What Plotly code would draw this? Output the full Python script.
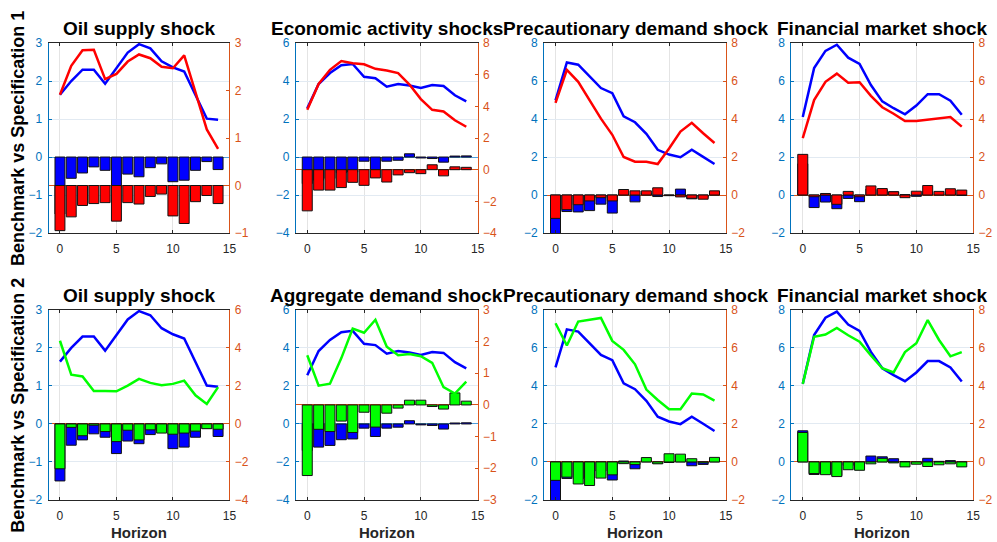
import plotly.graph_objects as go

horizon = list(range(15))

# Benchmark (same in both rows)
bench_oil_line = [1.64, 2.0, 2.3, 2.3, 1.93, 2.35, 2.75, 2.97, 2.86, 2.52, 2.36, 2.25, 1.64, 1.01, 0.98]
bench_oil_bar = [-1.5, -0.56, -0.42, -0.26, -0.35, -0.78, -0.45, -0.52, -0.28, -0.18, -0.65, -0.61, -0.35, -0.12, -0.33]
bench_ea_line = [2.56, 3.84, 4.42, 4.83, 4.9, 4.22, 4.15, 3.7, 3.84, 3.76, 3.63, 3.79, 3.74, 3.25, 2.93]
bench_ea_bar = [-1.4, -1.22, -1.13, -0.83, -0.79, -0.22, -0.66, -0.22, -0.17, 0.17, -0.05, -0.08, -0.27, 0.05, 0.06]
bench_pd_line = [4.98, 6.98, 6.86, 6.26, 5.63, 5.36, 4.14, 3.83, 3.22, 2.38, 2.13, 1.99, 2.38, 2.01, 1.63]
bench_pd_bar = [-2.3, -0.87, -0.89, -0.82, -0.48, -0.95, 0.05, -0.36, 0.1, -0.08, -0.03, 0.31, -0.2, -0.13, 0.05]
bench_fm_line = [4.11, 6.68, 7.59, 7.91, 7.23, 6.9, 5.79, 4.93, 4.57, 4.25, 4.71, 5.31, 5.31, 4.97, 4.23]
bench_fm_bar = [1.64, -0.66, -0.37, -0.72, -0.18, -0.35, 0.31, 0.27, 0.17, 0.02, -0.07, 0.19, 0.03, 0.07, -0.02]

# Specification 1
spec1_oil_line = [1.91, 2.52, 2.85, 2.86, 2.24, 2.35, 2.61, 2.76, 2.68, 2.5, 2.47, 2.74, 1.96, 1.18, 0.77]
spec1_oil_bar = [-0.95, -0.66, -0.42, -0.38, -0.36, -0.75, -0.36, -0.39, -0.23, -0.18, -0.64, -0.8, -0.34, -0.21, -0.38]
spec1_ea_line = [3.78, 5.42, 6.31, 6.86, 6.72, 6.66, 6.37, 6.27, 6.1, 5.38, 4.46, 3.78, 3.68, 3.12, 2.71]
spec1_ea_bar = [-2.6, -1.29, -1.29, -1.13, -0.8, -0.99, -0.52, -0.78, -0.33, -0.19, -0.25, 0.31, -0.39, 0.18, 0.15]
spec1_pd_line = [4.85, 6.59, 5.96, 4.97, 4.02, 3.17, 2.0, 1.75, 1.75, 1.63, 2.45, 3.34, 3.8, 3.25, 2.74]
spec1_pd_bar = [-1.23, -0.77, -0.51, -0.31, -0.14, -0.31, 0.29, 0.22, 0.22, 0.38, -0.03, -0.1, -0.17, -0.22, 0.22]
spec1_fm_line = [3.0, 5.0, 5.96, 6.39, 5.91, 5.94, 5.22, 4.62, 4.28, 3.89, 3.89, 3.97, 4.06, 4.11, 3.6]
spec1_fm_bar = [2.14, -0.09, 0.08, -0.49, 0.19, -0.09, 0.48, 0.34, 0.17, -0.14, 0.2, 0.5, 0.19, 0.33, 0.26]

# Specification 2
spec2_oil_line = [4.38, 2.59, 2.5, 1.73, 1.73, 1.72, 2.02, 2.37, 2.16, 2.04, 2.11, 2.28, 1.51, 1.05, 1.94]
spec2_oil_bar = [-2.36, -0.18, -0.62, -0.07, -0.4, -0.93, -0.33, -0.84, -0.31, -0.48, -0.54, -0.48, -0.38, -0.25, -0.28]
spec2_ad_line = [1.57, 0.61, 0.67, 1.48, 2.41, 2.28, 2.69, 1.84, 1.57, 1.61, 1.54, 1.33, 0.56, 0.36, 0.74]
spec2_ad_bar = [-2.23, -0.77, -0.84, -0.51, -0.87, -0.23, -0.7, -0.26, -0.1, 0.15, 0.15, -0.05, -0.13, 0.38, 0.12]
spec2_pd_line = [7.3, 6.13, 7.39, 7.47, 7.58, 6.37, 5.9, 5.14, 3.81, 3.26, 2.78, 2.78, 3.6, 3.55, 3.23]
spec2_pd_bar = [-0.97, -0.8, -1.16, -1.24, -0.85, -0.68, -0.09, -0.14, 0.23, -0.1, 0.43, 0.41, 0.17, -0.05, 0.24]
spec2_fm_line = [4.11, 6.59, 6.71, 7.05, 6.67, 6.33, 5.61, 4.93, 4.71, 5.78, 6.25, 7.47, 6.42, 5.56, 5.78]
spec2_fm_bar = [1.55, -0.61, -0.67, -0.77, -0.41, -0.44, -0.1, 0.19, -0.05, -0.26, -0.12, -0.24, -0.15, -0.1, -0.26]

titles = ["Oil supply shock", "Economic activity shocks", "Precautionary demand shock", "Financial market shock",
          "Oil supply shock", "Aggregate demand shock", "Precautionary demand shock", "Financial market shock"]
row_labels = ["Benchmark vs Specification 1", "Benchmark vs Specification 2"]
xlabel = "Horizon"

left_ranges = [[-2, 3, 1], [-4, 6, 2], [-2, 8, 2], [-2, 8, 2]]
right_ranges = [[-1, 3, 1], [-4, 8, 2], [-2, 8, 2], [-2, 8, 2],
                [-4, 6, 2], [-3, 3, 1], [-2, 8, 2], [-2, 8, 2]]

bench_lines = [bench_oil_line, bench_ea_line, bench_pd_line, bench_fm_line]
bench_bars = [bench_oil_bar, bench_ea_bar, bench_pd_bar, bench_fm_bar]
alt_lines = [spec1_oil_line, spec1_ea_line, spec1_pd_line, spec1_fm_line,
             spec2_oil_line, spec2_ad_line, spec2_pd_line, spec2_fm_line]
alt_bars = [spec1_oil_bar, spec1_ea_bar, spec1_pd_bar, spec1_fm_bar,
            spec2_oil_bar, spec2_ad_bar, spec2_pd_bar, spec2_fm_bar]
alt_colors = ["#ff0000"] * 4 + ["#00ff00"] * 4

W, H = 997, 542
col_px = [(49, 231), (298, 481), (548, 731), (797, 980)]
row_px = [(37, 232), (311, 506)]

LEFTC = "#0072BD"
RIGHTC = "#D95319"
FONT = "Liberation Sans, Arial, Helvetica, sans-serif"

fig = go.Figure()
layout = dict(width=W, height=H, margin=dict(l=0, r=0, t=0, b=0),
              paper_bgcolor="white", plot_bgcolor="white", showlegend=False,
              barmode="overlay", font=dict(family=FONT, size=12, color="#262626"))
annotations = []

for k in range(8):
    r, c = divmod(k, 4)
    xid = "" if k == 0 else str(k + 1)
    yl = 2 * k + 1
    yr = 2 * k + 2
    ylid = "" if yl == 1 else str(yl)
    yrid = str(yr)
    xd = [col_px[c][0] / W, col_px[c][1] / W]
    yd = [1 - row_px[r][1] / H, 1 - row_px[r][0] / H]
    lr = left_ranges[c]
    rr = right_ranges[k]

    layout["xaxis" + xid] = dict(domain=xd, anchor="y" + ylid, range=[-1, 15],
                                 tickvals=[0, 5, 10, 15], showgrid=True, gridcolor="#e4e4e4",
                                 gridwidth=1, zeroline=False, showline=True, linecolor="#262626",
                                 linewidth=1, mirror="ticks", ticks="inside", ticklen=3,
                                 ticklabelstandoff=5,
                                 tickcolor="#262626", tickfont=dict(size=12, color="#262626", family=FONT))
    layout["yaxis" + ylid] = dict(domain=yd, anchor="x" + xid, range=[lr[0], lr[1]], dtick=lr[2],
                                  tick0=0, showgrid=True, gridcolor="#e2eaf2", zeroline=True,
                                  zerolinecolor="#4f9fdc", zerolinewidth=1, showline=True,
                                  linecolor=LEFTC, linewidth=1, ticks="inside", ticklen=3,
                                  ticklabelstandoff=3,
                                  tickcolor=LEFTC, tickfont=dict(size=12, color=LEFTC, family=FONT))
    layout["yaxis" + yrid] = dict(domain=yd, anchor="x" + xid, overlaying="y" + ylid, side="right",
                                  range=[rr[0], rr[1]], dtick=rr[2], tick0=0, showgrid=False,
                                  zeroline=True, zerolinecolor=RIGHTC, zerolinewidth=1,
                                  showline=True, linecolor=RIGHTC, linewidth=1, ticks="inside",
                                  ticklen=3, tickcolor=RIGHTC, ticklabelstandoff=2,
                                  tickfont=dict(size=12, color=RIGHTC, family=FONT))

    fig.add_trace(go.Bar(x=horizon, y=bench_bars[c], width=0.88, marker_color="#0000ff",
                         marker_line=dict(color="#111111", width=1),
                         xaxis="x" + xid, yaxis="y" + ylid))
    fig.add_trace(go.Scatter(x=horizon, y=bench_lines[c], mode="lines",
                             line=dict(color="#0000ff", width=2.5),
                             xaxis="x" + xid, yaxis="y" + ylid))
    fig.add_trace(go.Bar(x=horizon, y=alt_bars[k], width=0.88, marker_color=alt_colors[k],
                         marker_line=dict(color="#111111", width=1),
                         xaxis="x" + xid, yaxis="y" + yrid))
    fig.add_trace(go.Scatter(x=horizon, y=alt_lines[k], mode="lines",
                             line=dict(color=alt_colors[k], width=2.5),
                             xaxis="x" + xid, yaxis="y" + yrid))

    annotations.append(dict(text="<b>" + titles[k] + "</b>", x=(xd[0] + xd[1]) / 2, y=yd[1],
                            xref="paper", yref="paper", xanchor="center", yanchor="bottom",
                            yshift=2, showarrow=False,
                            font=dict(size=19, color="black", family=FONT)))
    if r == 1:
        annotations.append(dict(text="<b>" + xlabel + "</b>", x=(xd[0] + xd[1]) / 2,
                                y=1 - 529 / H, xref="paper", yref="paper", xanchor="center",
                                yanchor="top", showarrow=False,
                                font=dict(size=15, color="#262626", family=FONT)))

for r in range(2):
    annotations.append(dict(text="<b>" + row_labels[r] + "</b>", x=18 / W,
                            y=1 - (row_px[r][0] + row_px[r][1]) / 2 / H,
                            xref="paper", yref="paper", xanchor="center", yanchor="middle",
                            textangle=-90, showarrow=False,
                            font=dict(size=18, color="black", family=FONT)))

layout["annotations"] = annotations
fig.update_layout(**layout)
post = (
    "var st=document.createElement('style');"
    "st.textContent='html,body{margin:0;padding:0;overflow:hidden;}';"
    "document.head.appendChild(st);"
)
fig.write_html("out.html", config={"displayModeBar": False}, post_script=post)
